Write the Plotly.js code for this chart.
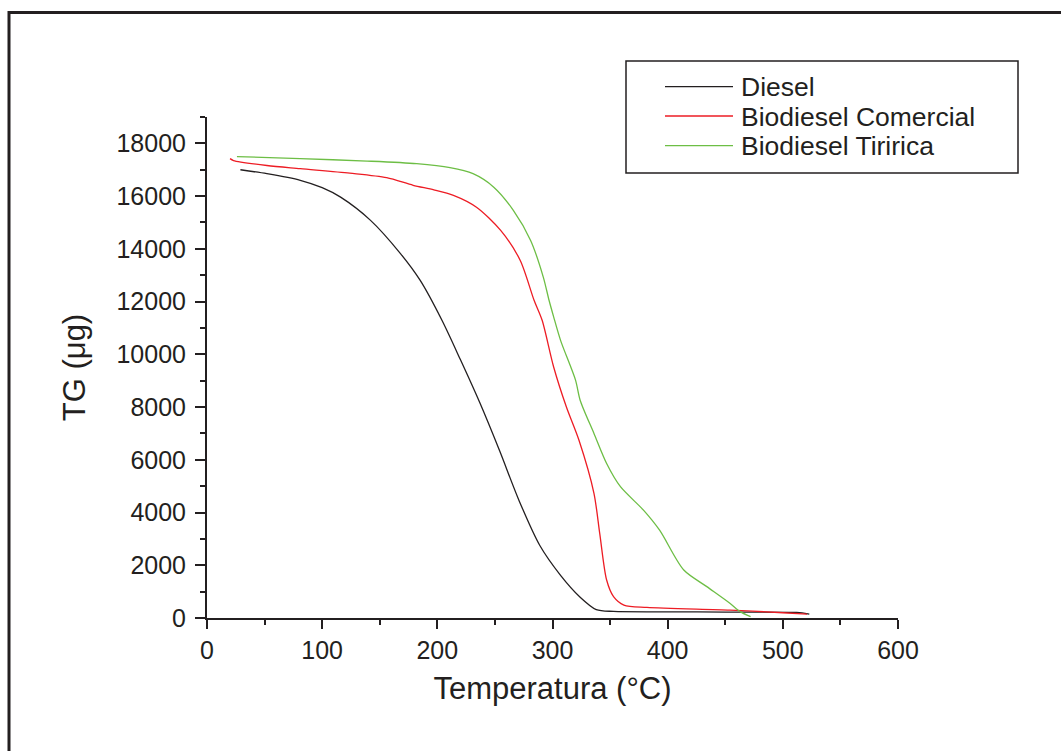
<!DOCTYPE html>
<html>
<head>
<meta charset="utf-8">
<script src="https://cdn.plot.ly/plotly-3.0.1.min.js"></script>
<style>html,body{margin:0;padding:0;background:#fff;}#chart{width:1061px;height:751px;}</style>
</head>
<body>
<div id="chart"></div>
<script>
// Series names (legend)
const seriesNames = ["Diesel", "Biodiesel Comercial", "Biodiesel Tiririca"];

// Diesel
const dieselT = [29, 52, 81, 100, 116, 142, 168, 185, 204, 220, 237, 254, 271, 289, 307, 324, 338, 353, 400, 450, 512, 523];
const dieselTG = [17000, 16850, 16600, 16320, 15960, 15080, 13820, 12810, 11290, 9800, 8150, 6350, 4450, 2750, 1620, 790, 320, 250, 235, 225, 210, 150];

// Biodiesel Comercial
const comT = [20, 23, 52, 81, 124, 156, 179, 197, 214, 234, 255, 272, 284, 291, 301, 312, 323, 336, 341, 347, 353, 362, 382, 454, 500, 521];
const comTG = [17420, 17350, 17160, 17040, 16870, 16700, 16410, 16240, 16030, 15580, 14700, 13560, 12050, 11290, 9520, 8010, 6740, 4730, 3210, 1440, 810, 490, 400, 300, 200, 150];

// Biodiesel Tiririca
const tirT = [26, 81, 139, 182, 211, 231, 249, 266, 281, 292, 297, 301, 307, 320, 324, 336, 347, 359, 379, 393, 414, 434, 454, 463, 472];
const tirTG = [17500, 17420, 17330, 17230, 17080, 16850, 16340, 15460, 14320, 12930, 12050, 11420, 10530, 9020, 8260, 7000, 5860, 4980, 4090, 3330, 1820, 1190, 560, 240, 50];

const colors = ["#231f20", "#ed1c24", "#6dbe45"];
const xs = [dieselT, comT, tirT];
const ys = [dieselTG, comTG, tirTG];

const traces = seriesNames.map((n, i) => ({
  x: xs[i], y: ys[i], name: n, type: "scatter", mode: "lines",
  line: {color: colors[i], width: 1.3, shape: "spline", smoothing: 0.8},
  showlegend: false, hoverinfo: "x+y+name"
}));

const axisColor = "#231f20";
const fontFam = "Liberation Sans, Arial, sans-serif";

// Custom legend (box, sample lines, labels) in paper coords
const L = 207, R = 163, T = 117, B = 133;
const W = 1061 - L - R, H = 751 - T - B;
const px = v => (v - L) / W;
const py = v => (751 - B - v) / H;

const shapes = [
  {type: "rect", xref: "paper", yref: "paper", x0: px(9), x1: px(1080), y0: py(12.5), y1: py(780),
   line: {color: "#231f20", width: 3}, fillcolor: "rgba(0,0,0,0)"},
  {type: "rect", xref: "paper", yref: "paper", x0: px(626), x1: px(1018), y0: py(61), y1: py(173),
   line: {color: "#231f20", width: 1.5}, fillcolor: "rgba(0,0,0,0)"}
];
const rowY = [86.7, 116, 145.7];
const annotations = [];
seriesNames.forEach((n, i) => {
  shapes.push({type: "line", xref: "paper", yref: "paper", x0: px(665), x1: px(733), y0: py(rowY[i]), y1: py(rowY[i]),
    line: {color: colors[i], width: 1.3}});
  annotations.push({xref: "paper", yref: "paper", x: px(739), y: py(rowY[i] + 0.5), xanchor: "left", yanchor: "middle",
    text: n, showarrow: false, font: {family: fontFam, size: 26.5, color: axisColor}});
});

const layout = {
  width: 1061, height: 751,
  margin: {l: L, r: R, t: T, b: B, pad: 0},
  paper_bgcolor: "#ffffff", plot_bgcolor: "#ffffff",
  showlegend: false,
  font: {family: fontFam, color: axisColor},
  xaxis: {
    range: [0, 600], tickvals: [0, 100, 200, 300, 400, 500, 600], tickformat: "d",
    showgrid: false, zeroline: false, showline: true, linecolor: axisColor, linewidth: 2,
    ticks: "outside", ticklen: 9, tickwidth: 2, tickcolor: axisColor,
    minor: {ticks: "outside", ticklen: 5, tickwidth: 2, tickcolor: axisColor, dtick: 50, showgrid: false},
    tickfont: {family: fontFam, size: 25, color: axisColor},
    title: {text: "Temperatura (°C)", font: {family: fontFam, size: 31, color: axisColor}, standoff: 14},
    automargin: false
  },
  yaxis: {
    range: [0, 19000], tickvals: [0, 2000, 4000, 6000, 8000, 10000, 12000, 14000, 16000, 18000], tickformat: "d",
    showgrid: false, zeroline: false, showline: true, linecolor: axisColor, linewidth: 2,
    ticks: "outside", ticklen: 10, tickwidth: 2, tickcolor: axisColor,
    minor: {ticks: "outside", ticklen: 5, tickwidth: 2, tickcolor: axisColor, dtick: 1000, showgrid: false},
    tickfont: {family: fontFam, size: 25, color: axisColor},
    ticklabelstandoff: 4,
    title: {text: "TG (μg)", font: {family: fontFam, size: 31, color: axisColor}, standoff: 22},
    automargin: false
  },
  shapes: shapes,
  annotations: annotations
};

Plotly.newPlot("chart", traces, layout, {displayModeBar: false});
</script>
</body>
</html>
